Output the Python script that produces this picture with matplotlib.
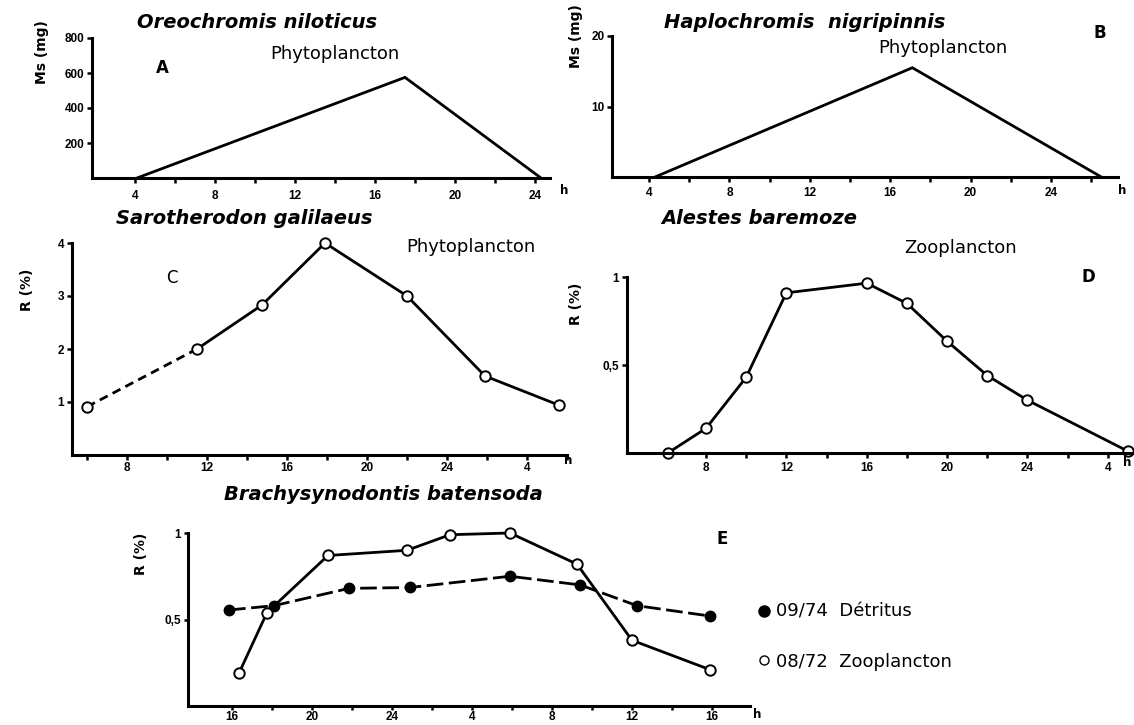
import matplotlib
matplotlib.use('Agg')
import matplotlib.pyplot as plt
from matplotlib.lines import Line2D

plt.rcParams['font.family'] = ['DejaVu Sans']

# ---------------- data ----------------
a_hours = [4.1, 17.5, 24.3]
a_ms = [0, 575, 0]
a_yticks = [200, 400, 600, 800]

b_hours = [4.3, 17.1, 26.5]
b_ms = [0, 15.5, 0]
b_yticks = [10, 20]

ab_xticks = [4, 8, 12, 16, 20, 24]
ab_xlabels = ['4', '8', '12', '16', '20', '24']

c_hours = [6.0, 11.5, 14.75, 17.9, 22.0, 25.9, 29.6]
c_r = [0.91, 2.0, 2.83, 4.0, 3.0, 1.49, 0.94]
c_yticks = [1, 2, 3, 4]

d_hours = [6.1, 8, 10, 12, 16, 18, 20, 22, 24, 29]
d_r = [0.0, 0.14, 0.43, 0.91, 0.965, 0.85, 0.635, 0.44, 0.30, 0.01]

cd_xticks = [8, 12, 16, 20, 24, 28]
cd_xlabels = ['8', '12', '16', '20', '24', '4']

e_hours_zoo = [16.35, 17.75, 20.8, 24.75, 26.9, 29.9, 33.25, 36.0, 39.9]
e_r_zoo = [0.19, 0.54, 0.87, 0.90, 0.99, 1.0, 0.82, 0.38, 0.21]
e_hours_det = [15.85, 18.1, 21.85, 24.9, 29.9, 33.4, 36.25, 39.9]
e_r_det = [0.555, 0.58, 0.68, 0.685, 0.75, 0.70, 0.58, 0.52]
e_xticks = [16, 20, 24, 28, 32, 36, 40]
e_xlabels = ['16', '20', '24', '4', '8', '12', '16']

r_yticks = [0.5, 1]
r_ylabels = ['0,5', '1']

# ---------------- figure ----------------
W, H = 1134, 725
fig = plt.figure(figsize=(W / 100, H / 100), dpi=100)
fig.patch.set_facecolor('white')


def box(l, r, t, b):
    return [l / W, 1 - b / H, (r - l) / W, (b - t) / H]


def ftext(x, y, s, **kw):
    kw.setdefault('ha', 'center')
    kw.setdefault('va', 'center')
    fig.text(x / W, 1 - y / H, s, **kw)


TICKFONT = dict(family=['Liberation Sans', 'DejaVu Sans'], weight='bold', size=8.5)
TITLE = dict(fontsize=14, fontweight='bold', fontstyle='italic')
ANNOT = dict(fontsize=13)
LW = 2.0
MS = 7.5


def style(ax, xticks, xlabels, minor, yticks, ylabels, xpad, tlen=3.5):
    for s in ['top', 'right']:
        ax.spines[s].set_visible(False)
    for s in ['left', 'bottom']:
        ax.spines[s].set_linewidth(2.2)
    ax.set_xticks(xticks)
    ax.set_xticklabels(xlabels, fontdict=TICKFONT)
    ax.set_xticks(minor, minor=True)
    ax.set_yticks(yticks)
    ax.set_yticklabels(ylabels, fontdict=TICKFONT)
    ax.tick_params(which='both', direction='out', length=tlen, width=1.8)
    ax.tick_params(axis='x', pad=xpad)
    ax.tick_params(axis='y', pad=2)


# Panel A
axA = fig.add_axes(box(92, 550, 38, 178))
axA.plot(a_hours, a_ms, color='black', lw=LW, clip_on=False, solid_joinstyle='miter')
axA.set_xlim(1.85, 24.75)
axA.set_ylim(0, 800)
style(axA, ab_xticks, ab_xlabels, [6, 10, 14, 18, 22], a_yticks,
      [str(v) for v in a_yticks], 5)
axA.set_ylabel('Ms (mg)', fontsize=10, fontweight='bold', ha='center', va='center')
axA.yaxis.set_label_coords(-0.109, 0.90)

# Panel B
axB = fig.add_axes(box(612, 1118, 36, 177))
axB.plot(b_hours, b_ms, color='black', lw=LW, clip_on=False, solid_joinstyle='miter')
axB.set_xlim(2.16, 27.33)
axB.set_ylim(0, 20)
style(axB, ab_xticks, ab_xlabels, [6, 10, 14, 18, 22, 26], b_yticks,
      [str(v) for v in b_yticks], 3.5)
axB.set_ylabel('Ms (mg)', fontsize=10, fontweight='bold', ha='center', va='center')
axB.yaxis.set_label_coords(-0.071, 1.0)

# Panel C
axC = fig.add_axes(box(72, 567, 243, 455))
axC.plot(c_hours[:2], c_r[:2], color='black', lw=LW, linestyle=(0, (3.2, 2.0)), clip_on=False)
axC.plot(c_hours[1:], c_r[1:], color='black', lw=LW, clip_on=False)
axC.plot(c_hours, c_r, linestyle='none', marker='o', ms=MS, mfc='white', mec='black',
         mew=1.4, clip_on=False, zorder=5)
axC.set_xlim(5.25, 30.0)
axC.set_ylim(0, 4)
style(axC, cd_xticks, cd_xlabels, [6, 10, 14, 18, 22, 26, 30], c_yticks,
      [str(v) for v in c_yticks], 1.5)
axC.set_ylabel('R (%)', fontsize=10, fontweight='bold', ha='center', va='center')
axC.yaxis.set_label_coords(-0.091, 0.78)

# Panel D
axD = fig.add_axes(box(627, 1134, 277, 453))
axD.plot(d_hours, d_r, color='black', lw=LW, marker='o', ms=MS, mfc='white', mec='black',
         mew=1.4, clip_on=False)
axD.set_xlim(4.07, 29.3)
axD.set_ylim(0, 1)
style(axD, cd_xticks, cd_xlabels, [6, 10, 14, 18, 22, 26], r_yticks, r_ylabels, 3)
axD.set_ylabel('R (%)', fontsize=10, fontweight='bold', ha='center', va='center')
axD.yaxis.set_label_coords(-0.10, 0.85)

# Panel E
axE = fig.add_axes(box(188, 750, 533, 706))
axE.plot(e_hours_det, e_r_det, color='black', lw=LW, linestyle=(0, (6, 2)),
         marker='o', ms=MS, mfc='black', mec='black', clip_on=False, zorder=3)
axE.plot(e_hours_zoo, e_r_zoo, color='black', lw=LW, marker='o', ms=MS, mfc='white',
         mec='black', mew=1.4, clip_on=False, zorder=4)
axE.set_xlim(13.8, 41.9)
axE.set_ylim(0, 1)
style(axE, e_xticks, e_xlabels, [18, 22, 26, 30, 34, 38], r_yticks, r_ylabels, 0.5, tlen=3)
axE.set_ylabel('R (%)', fontsize=10, fontweight='bold', ha='center', va='center')
axE.yaxis.set_label_coords(-0.084, 0.88)

handles = [Line2D([], [], linestyle='none', marker='o', ms=8, mfc='black', mec='black'),
           Line2D([], [], linestyle='none', marker='o', ms=6.5, mfc='white', mec='black', mew=1.0)]
axE.legend(handles, ['09/74  Détritus', '08/72  Zooplancton'], loc='upper left',
           bbox_to_anchor=(758 / W, 1 - 603 / H), bbox_transform=fig.transFigure,
           frameon=False, fontsize=13, handlelength=0.7, handletextpad=0.3,
           labelspacing=1.75, borderaxespad=0, borderpad=0)

# ---------------- texts ----------------
ftext(257, 22, 'Oreochromis niloticus', **TITLE)
ftext(805, 22, 'Haplochromis  nigripinnis', **TITLE)
ftext(244, 218, 'Sarotherodon galilaeus', **TITLE)
ftext(759, 218, 'Alestes baremoze', **TITLE)
ftext(383, 494, 'Brachysynodontis batensoda', **TITLE)

ftext(335, 54, 'Phytoplancton', **ANNOT)
ftext(943, 48, 'Phytoplancton', **ANNOT)
ftext(471, 247, 'Phytoplancton', **ANNOT)
ftext(961, 248, 'Zooplancton', **ANNOT)

ftext(162, 68, 'A', fontsize=12, fontweight='bold')
ftext(1100, 33, 'B', fontsize=12, fontweight='bold')
ftext(172, 278, 'C', fontsize=12)
ftext(1088, 277, 'D', fontsize=12, fontweight='bold')
ftext(722, 539, 'E', fontsize=12, fontweight='bold')

for (hx, hy) in [(564, 191), (1122, 191), (568, 461), (1127, 463), (757, 715)]:
    ftext(hx, hy, 'h', fontsize=8.5, fontweight='bold')

fig.savefig('out.png', dpi=100, facecolor='white')
